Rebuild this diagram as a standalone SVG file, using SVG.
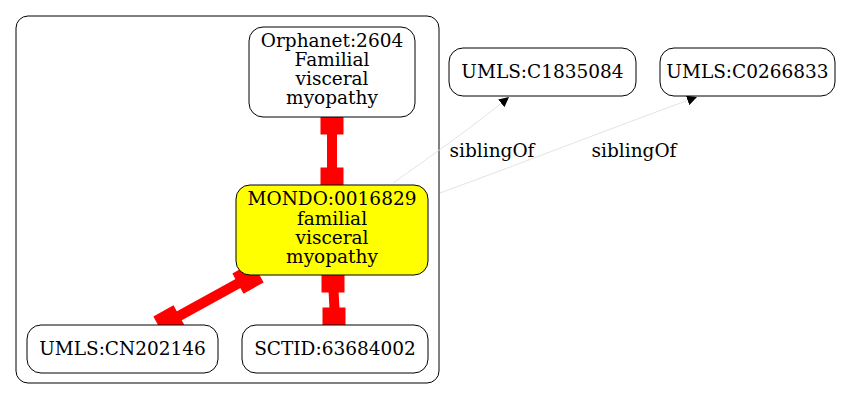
<svg xmlns="http://www.w3.org/2000/svg" width="852" height="400" viewBox="0 0 852 400">
<defs>
<style>
.node rect{fill:#fff;stroke:#000;stroke-width:1}
text{font-family:"DejaVu Serif","Liberation Serif",serif;font-size:18.5px;fill:#000;text-anchor:middle}
.red{stroke:#ff0000;stroke-width:10;fill:none}
.box{fill:#ff0000;stroke:#ff0000}
.sib{stroke:#dcdcdc;stroke-width:0.8;fill:none}
</style>
<marker id="tri" viewBox="0 0 10 10" refX="10" refY="5" markerWidth="10" markerHeight="10" markerUnits="userSpaceOnUse" orient="auto">
<path d="M0,0 L10,5 L0,10 z" fill="#000"/>
</marker>
</defs>
<rect x="16" y="16" width="423" height="367" rx="12" fill="none" stroke="#000"/>
<g id="connectors">
<g id="e1">
<line class="red" x1="332" y1="123" x2="332" y2="180"/>
<rect class="box" x="321" y="112" width="22" height="22"/>
<rect class="box" x="321" y="168" width="22" height="22"/>
</g>
<g id="e2">
<line class="red" x1="333" y1="281" x2="335" y2="318"/>
<rect class="box" x="322" y="270" width="22" height="22"/>
<rect class="box" x="323" y="308" width="22" height="22"/>
</g>
<g id="e3">
<line class="red" x1="248" y1="278" x2="168" y2="322"/>
<rect class="box" x="-11" y="-11" width="22" height="22" transform="translate(248,278) rotate(-29)"/>
<rect class="box" x="-11" y="-11" width="22" height="22" transform="translate(169,321) rotate(-29)"/>
</g>
<g id="e4">
<path class="sib" d="M393,183 C430,157 475,125 509,97" marker-end="url(#tri)"/>
<text x="492" y="157">siblingOf</text>
</g>
<g id="e5">
<path class="sib" d="M440,193 C530,160 620,125 697,97" marker-end="url(#tri)"/>
<text x="634" y="157">siblingOf</text>
</g>
</g>
<g id="orphanet" class="node">
<rect x="249" y="27" width="166" height="90" rx="14"/>
<text x="332" y="47">Orphanet:2604</text>
<text x="332" y="66">Familial</text>
<text x="332" y="85">visceral</text>
<text x="332" y="104">myopathy</text>
</g>
<g id="mondo" class="node">
<rect x="236" y="185" width="192" height="90" rx="14" style="fill:#ffff00"/>
<text x="332" y="205">MONDO:0016829</text>
<text x="332" y="224.5">familial</text>
<text x="332" y="244">visceral</text>
<text x="332" y="263">myopathy</text>
</g>
<g id="cn202146" class="node">
<rect x="27" y="325" width="191" height="48" rx="14"/>
<text x="122.5" y="355">UMLS:CN202146</text>
</g>
<g id="sctid" class="node">
<rect x="242" y="325" width="186" height="48" rx="14"/>
<text x="335" y="355">SCTID:63684002</text>
</g>
<g id="c1835084" class="node">
<rect x="449" y="48" width="187" height="48" rx="14"/>
<text x="542.5" y="78">UMLS:C1835084</text>
</g>
<g id="c0266833" class="node">
<rect x="660" y="48" width="175" height="48" rx="14"/>
<text x="747.5" y="78">UMLS:C0266833</text>
</g>
</svg>
